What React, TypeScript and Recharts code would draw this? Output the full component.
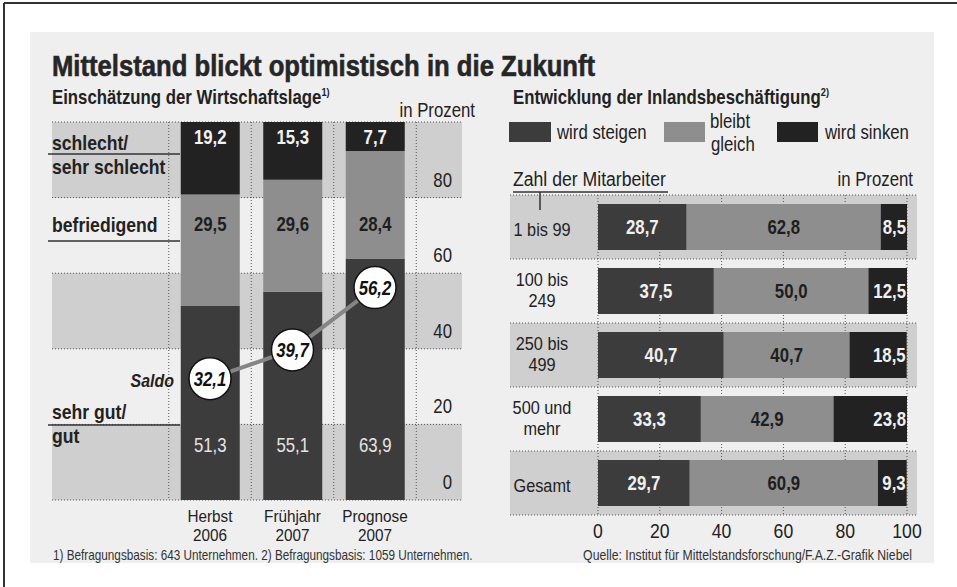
import React from "react";
import {
  Bar,
  BarChart,
  CartesianGrid,
  ComposedChart,
  LabelList,
  Line,
  XAxis,
  YAxis,
} from "recharts";

// ---- left chart: Einschätzung der Wirtschaftslage ----
const periods = ["Herbst\n2006", "Frühjahr\n2007", "Prognose\n2007"];
const gutValues = [51.3, 55.1, 63.9];
const befriedigendValues = [29.5, 29.6, 28.4];
const schlechtValues = [19.2, 15.3, 7.7];
const saldoValues = [32.1, 39.7, 56.2];
const leftTicks = [0, 20, 40, 60, 80, 100];

// ---- right chart: Entwicklung der Inlandsbeschäftigung ----
const sizeClasses = ["1 bis 99", "100 bis\n249", "250 bis\n499", "500 und\nmehr", "Gesamt"];
const steigenValues = [28.7, 37.5, 40.7, 33.3, 29.7];
const gleichValues = [62.8, 50.0, 40.7, 42.9, 60.9];
const sinkenValues = [8.5, 12.5, 18.5, 23.8, 9.3];
const rightTicks = [0, 20, 40, 60, 80, 100];

const leftData = periods.map((period, i) => ({
  idx: i,
  period,
  gut: gutValues[i],
  befriedigend: befriedigendValues[i],
  schlecht: schlechtValues[i],
  saldo: saldoValues[i],
}));

const rightData = sizeClasses.map((label, i) => ({
  idx: i,
  label,
  steigen: steigenValues[i],
  gleich: gleichValues[i],
  sinken: sinkenValues[i],
}));

const FONT = "'Liberation Sans', Arial, sans-serif";
const SX = 0.84; // horizontal squeeze, the print uses a condensed face
const INK = "#222";
const DARK = "#3c3c3c";
const MID = "#8e8e8e";
const DARKEST = "#222222";
const BAND = "#cfcfcf";
const PAPER = "#efefef";
const DOTS = "#555";

const fmt = (v: number) => v.toFixed(1).replace(".", ",");

// condensed svg text, x/y is the anchor point, lines stack downwards
function CText({
  x,
  y,
  anchor = "start",
  size,
  weight = 400,
  italic = false,
  fill = INK,
  lineHeight = 20,
  sx = SX,
  stroke,
  children,
}: any) {
  const lines = String(children).split("\n");
  return (
    <text
      transform={`translate(${x} ${y}) scale(${sx} 1)`}
      x={0}
      y={0}
      textAnchor={anchor}
      fontSize={size}
      fontWeight={weight}
      fontStyle={italic ? "italic" : undefined}
      fill={fill}
      stroke={stroke}
      strokeWidth={stroke ? 0.6 : undefined}
      fontFamily={FONT}
    >
      {lines.length === 1
        ? lines[0]
        : lines.map((l, k) => (
            <tspan key={k} x={0} y={k * lineHeight}>
              {l}
            </tspan>
          ))}
    </text>
  );
}

// label rows of the left chart sit at fixed heights (in percent units)
const leftRows: Record<string, number> = { schlecht: 96, befriedigend: 73, gut: 14.6 };

function rowLabel(key: "gut" | "befriedigend" | "schlecht", fill: string, weight: number) {
  return (props: any) => {
    const vb = props.viewBox ?? props;
    const { x, y, width, height } = vb;
    let i = props.index;
    if (i == null) i = leftData.findIndex((d) => d[key] === Number(props.value));
    const row = leftData[i];
    if (!row) return null;
    const base = key === "gut" ? 0 : key === "befriedigend" ? row.gut : row.gut + row.befriedigend;
    const seg = row[key];
    const ppu = height / seg;
    const cy = y + height - (leftRows[key] - base) * ppu;
    return (
      <CText x={x + width / 2} y={cy + 7} anchor="middle" size={20} weight={weight} fill={fill}>
        {fmt(seg)}
      </CText>
    );
  };
}

function barLabel(fill: string, align: "middle" | "end") {
  return (props: any) => {
    const vb = props.viewBox ?? props;
    const { x, y, width, height } = vb;
    const tx = align === "end" ? x + width - 1 : x + width / 2;
    return (
      <CText x={tx} y={y + height / 2 + 7} anchor={align} size={20} weight={700} fill={fill}>
        {fmt(Number(props.value))}
      </CText>
    );
  };
}

const PeriodTick = (props: any) => {
  const { x, y, payload } = props;
  return (
    <CText x={x} y={y + 22} anchor="middle" size={17} sx={0.9} lineHeight={19.5}>
      {periods[payload.value] ?? ""}
    </CText>
  );
};

const PercentTick = (props: any) => {
  const { x, y, payload } = props;
  if (payload.value === 100) return <g />;
  return (
    <CText x={x - 10} y={y - 11} anchor="end" size={20}>
      {payload.value}
    </CText>
  );
};

const SizeTick = (props: any) => {
  const { x, y, payload } = props;
  const label = sizeClasses[payload.value] ?? "";
  const first = label.includes("\n") ? -5 : 9;
  return (
    <CText x={x + 32} y={y + first} anchor="middle" size={18.5} sx={0.88} lineHeight={21.5}>
      {label}
    </CText>
  );
};

const ScaleTick = (props: any) => {
  const { x, y, payload } = props;
  return (
    <CText x={x} y={y + 23} anchor="middle" size={21}>
      {payload.value}
    </CText>
  );
};

const SaldoDot = (props: any) => {
  const { cx, cy, value, index } = props;
  if (cx == null || cy == null) return <g key={index} />;
  return (
    <g key={`saldo-${index}`}>
      <circle cx={cx} cy={cy} r={21} fill="#fff" stroke="#111" strokeWidth={1.5} />
      <CText x={cx} y={cy + 7} anchor="middle" size={20} weight={700} italic fill="#111">
        {fmt(Number(value))}
      </CText>
    </g>
  );
};

function LeftChart() {
  return (
    <ComposedChart
      width={482}
      height={587}
      data={leftData}
      margin={{ top: 122, right: 0, bottom: 47, left: 52 }}
    >
      <CartesianGrid
        stroke={DOTS}
        strokeDasharray="1 2"
        horizontalValues={leftTicks}
        verticalValues={[-0.5, 0.5, 1.5, 2.5]}
        horizontalFill={[BAND, "transparent"]}
        fillOpacity={1}
      />
      <XAxis
        type="number"
        dataKey="idx"
        domain={[0, 2]}
        ticks={[0, 1, 2]}
        padding={{ left: 158, right: 87 }}
        height={40}
        axisLine={false}
        tickLine={false}
        tickSize={0}
        tickMargin={0}
        interval={0}
        tick={<PeriodTick />}
      />
      <YAxis
        type="number"
        orientation="right"
        domain={[0, 100]}
        ticks={leftTicks}
        width={20}
        axisLine={false}
        tickLine={false}
        tickSize={0}
        tickMargin={0}
        interval={0}
        tick={<PercentTick />}
      />
      <Bar dataKey="gut" stackId="a" fill={DARK} barSize={59} isAnimationActive={false}>
        <LabelList dataKey="gut" content={rowLabel("gut", "#e4e4e4", 400)} />
      </Bar>
      <Bar dataKey="befriedigend" stackId="a" fill={MID} barSize={59} isAnimationActive={false}>
        <LabelList dataKey="befriedigend" content={rowLabel("befriedigend", "#1e1e1e", 700)} />
      </Bar>
      <Bar dataKey="schlecht" stackId="a" fill={DARKEST} barSize={59} isAnimationActive={false}>
        <LabelList dataKey="schlecht" content={rowLabel("schlecht", "#f2f2f2", 700)} />
      </Bar>
      <Line
        dataKey="saldo"
        type="linear"
        stroke="#858585"
        strokeWidth={4}
        dot={SaldoDot}
        activeDot={false}
        isAnimationActive={false}
      />
    </ComposedChart>
  );
}

function RightChart() {
  return (
    <BarChart
      layout="vertical"
      width={467}
      height={587}
      data={rightData}
      margin={{ top: 195, right: 40, bottom: 32, left: 10 }}
    >
      <CartesianGrid
        stroke={DOTS}
        strokeDasharray="1 2"
        horizontalValues={[-0.5, 0.5, 1.5, 2.5, 3.5, 4.5]}
        verticalValues={rightTicks}
        horizontalFill={[BAND, "transparent"]}
        fillOpacity={1}
      />
      <XAxis
        type="number"
        domain={[0, 100]}
        ticks={rightTicks}
        padding={{ left: 88, right: 10 }}
        height={40}
        axisLine={false}
        tickLine={false}
        tickSize={0}
        tickMargin={0}
        interval={0}
        tick={<ScaleTick />}
      />
      <YAxis
        type="number"
        dataKey="idx"
        domain={[0, 4]}
        ticks={[0, 1, 2, 3, 4]}
        padding={{ top: 32, bottom: 32 }}
        width={10}
        axisLine={false}
        tickLine={false}
        tickSize={0}
        tickMargin={0}
        interval={0}
        tick={<SizeTick />}
      />
      <Bar dataKey="steigen" stackId="b" fill={DARK} barSize={46} isAnimationActive={false}>
        <LabelList dataKey="steigen" content={barLabel("#f0f0f0", "middle")} />
      </Bar>
      <Bar dataKey="gleich" stackId="b" fill={MID} barSize={46} isAnimationActive={false}>
        <LabelList dataKey="gleich" content={barLabel("#1e1e1e", "middle")} />
      </Bar>
      <Bar dataKey="sinken" stackId="b" fill={DARKEST} barSize={46} isAnimationActive={false}>
        <LabelList dataKey="sinken" content={barLabel("#f0f0f0", "end")} />
      </Bar>
    </BarChart>
  );
}

export default function App() {
  return (
    <div
      style={{
        position: "absolute",
        left: 0,
        top: 0,
        width: 957,
        height: 587,
        background: "#fff",
        overflow: "hidden",
      }}
    >
      <div
        style={{ position: "absolute", left: 30, top: 32, width: 904, height: 531, background: PAPER }}
      />
      <div style={{ position: "absolute", left: 0, top: 0 }}>
        <LeftChart />
      </div>
      <div style={{ position: "absolute", left: 490, top: 0 }}>
        <RightChart />
      </div>
      <svg
        width={957}
        height={587}
        style={{ position: "absolute", left: 0, top: 0, pointerEvents: "none" }}
      >
        <line x1={4} y1={3} x2={957} y2={3} stroke="#333" strokeWidth={2} />
        <line x1={4} y1={3} x2={4} y2={587} stroke="#333" strokeWidth={2} />

        <CText x={52} y={76} size={29} sx={0.885} weight={700} fill="#262626" stroke="#262626">
          Mittelstand blickt optimistisch in die Zukunft
        </CText>

        <text transform={`translate(52 104) scale(${SX} 1)`} fontFamily={FONT} fill={INK}
          fontSize={20} fontWeight={700}>
          Einschätzung der Wirtschaftslage
          <tspan fontSize={11} dy={-8}>1)</tspan>
        </text>
        <CText x={475} y={117} anchor="end" size={20}>in Prozent</CText>

        <CText x={52} y={150} size={20} sx={0.88} weight={700}>schlecht/</CText>
        <line x1={48} y1={154} x2={180} y2={154} stroke="#333" strokeWidth={1.5} />
        <CText x={52} y={174} size={20} sx={0.88} weight={700}>sehr schlecht</CText>
        <CText x={52} y={232} size={20} sx={0.88} weight={700}>befriedigend</CText>
        <line x1={48} y1={241} x2={180} y2={241} stroke="#333" strokeWidth={1.5} />
        <CText x={52} y={419} size={20} sx={0.88} weight={700}>sehr gut/</CText>
        <line x1={48} y1={425} x2={180} y2={425} stroke="#333" strokeWidth={1.5} />
        <CText x={52} y={443} size={20} sx={0.88} weight={700}>gut</CText>
        <CText x={174} y={387} anchor="end" size={19} weight={700} italic>Saldo</CText>

        <text transform={`translate(513 104) scale(${SX} 1)`} fontFamily={FONT} fill={INK}
          fontSize={20} fontWeight={700}>
          Entwicklung der Inlandsbeschäftigung
          <tspan fontSize={11} dy={-8}>2)</tspan>
        </text>

        <rect x={509} y={122} width={42} height={20} fill={DARK} />
        <CText x={557} y={139} size={20}>wird steigen</CText>
        <rect x={664} y={122} width={41} height={20} fill={MID} />
        <CText x={710} y={128} size={19.5} sx={0.86}>bleibt</CText>
        <CText x={711} y={151} size={19.5} sx={0.86}>gleich</CText>
        <rect x={777} y={122} width={41} height={20} fill={DARKEST} />
        <CText x={825} y={139} size={20}>wird sinken</CText>

        <CText x={513} y={186} size={21}>Zahl der Mitarbeiter</CText>
        <line x1={513} y1={192} x2={668} y2={192} stroke="#333" strokeWidth={1.5} />
        <line x1={540} y1={192} x2={540} y2={210} stroke="#333" strokeWidth={1.5} />
        <CText x={913} y={186} anchor="end" size={20}>in Prozent</CText>

        <CText x={53} y={560} size={14} fill="#333">
          1) Befragungsbasis: 643 Unternehmen. 2) Befragungsbasis: 1059  Unternehmen.
        </CText>
        <CText x={912} y={560} anchor="end" size={14.6} fill="#333">
          Quelle: Institut für Mittelstandsforschung/F.A.Z.-Grafik Niebel
        </CText>
      </svg>
    </div>
  );
}
